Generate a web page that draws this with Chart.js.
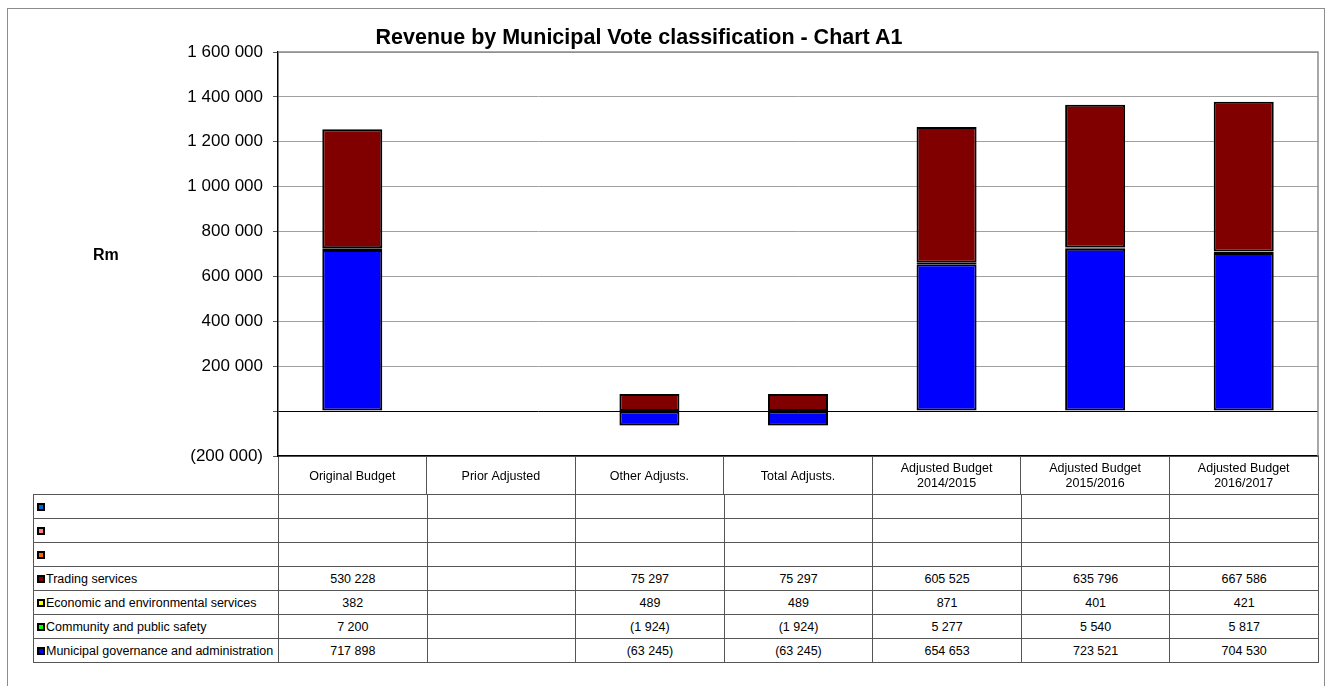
<!DOCTYPE html>
<html>
<head>
<meta charset="utf-8">
<title>Revenue by Municipal Vote classification - Chart A1</title>
<script src="https://cdn.jsdelivr.net/npm/chart.js@4.4.1/dist/chart.umd.min.js"></script>
<style>
  body { margin: 0; background: #fff; font-family: Arial, "Liberation Sans", sans-serif; }
  #page { position: relative; width: 1332px; height: 686px; overflow: hidden; }
  #frame { position: absolute; left: 7px; top: 8px; width: 1318px; height: 720px;
           border: 1px solid #8c8c8c; box-sizing: border-box; }
  #chart { position: absolute; left: 0; top: 0; }
  #title { position: absolute; left: 0; width: 1278px; top: 25px; text-align: center;
           font-weight: bold; font-size: 21.5px; color: #000; }
  #unit { position: absolute; left: 93px; top: 246px; font-weight: bold; font-size: 16px; color: #000; }
  #table { position: absolute; left: 33px; top: 494px; width: 1286px; display: grid;
           grid-template-columns: 245px repeat(7, 1fr);
           border-left: 1px solid #555; border-top: 1px solid #555; box-sizing: border-box;
           font-size: 12.5px; color: #000; }
  .cell { height: 24px; border-right: 1px solid #555; border-bottom: 1px solid #555;
          box-sizing: border-box; display: flex; align-items: center; justify-content: center;
          white-space: nowrap; overflow: hidden; }
  .cell.name { justify-content: flex-start; padding-left: 3px; }
  .key { width: 8px; height: 8px; border: 2px solid #000; box-sizing: border-box;
         margin-right: 1px; flex: none; }
</style>
</head>
<body>
<div id="page">
  <div id="frame"></div>
  <canvas id="chart" width="1332" height="494"></canvas>
  <div id="title">Revenue by Municipal Vote classification - Chart A1</div>
  <div id="unit">Rm</div>
  <div id="table"></div>
</div>
<script>
const categories = [
  "Original Budget",
  "Prior Adjusted",
  "Other Adjusts.",
  "Total Adjusts.",
  ["Adjusted Budget", "2014/2015"],
  ["Adjusted Budget", "2015/2016"],
  ["Adjusted Budget", "2016/2017"],
];

// stacked bottom-up, in this order
const municipal = [717898, null, -63245, -63245, 654653, 723521, 704530];
const community = [7200, null, -1924, -1924, 5277, 5540, 5817];
const economic = [382, null, 489, 489, 871, 401, 421];
const trading = [530228, null, 75297, 75297, 605525, 635796, 667586];
const blank = [null, null, null, null, null, null, null];

const yTicks = { min: -200000, max: 1600000, step: 200000 };

const series = [
  { name: "Municipal governance and administration", data: municipal, color: "#0000ff" },
  { name: "Community and public safety", data: community, color: "#00ff00" },
  { name: "Economic and environmental services", data: economic, color: "#ffff00" },
  { name: "Trading services", data: trading, color: "#800000" },
  { name: "", data: blank, color: "#ff6600" },
  { name: "", data: blank, color: "#ff8080" },
  { name: "", data: blank, color: "#0066cc" },
];

const FONT = "Arial, 'Liberation Sans', sans-serif";

/* 1 234 567 style, negatives in brackets */
function fmt(v) {
  if (v === null || v === undefined) return "";
  const s = Math.abs(v).toString().replace(/\B(?=(\d{3})+(?!\d))/g, " ");
  return v < 0 ? "(" + s + ")" : s;
}

/* gray top/right edges of the plot area */
const plotFrame = {
  id: "plotFrame",
  afterDraw(chart) {
    const { ctx, chartArea: a } = chart;
    ctx.save();
    ctx.strokeStyle = "#8c8c8c";
    ctx.lineWidth = 1.5;
    ctx.beginPath();
    ctx.moveTo(a.left, a.top);
    ctx.lineTo(a.right, a.top);
    ctx.lineTo(a.right, a.bottom);
    ctx.stroke();
    ctx.restore();
  },
};

new Chart(document.getElementById("chart"), {
  type: "bar",
  data: {
    labels: categories,
    datasets: series.map((s) => ({
      label: s.name,
      data: s.data,
      backgroundColor: s.color,
      borderColor: "#000",
      borderWidth: 2,
      borderSkipped: false,
      barPercentage: 0.404,
      categoryPercentage: 1,
    })),
  },
  options: {
    responsive: false,
    animation: false,
    devicePixelRatio: 1,
    layout: { padding: { left: 0, top: 52, right: 14, bottom: 0 } },
    plugins: {
      legend: { display: false },
      tooltip: { enabled: false },
    },
    scales: {
      x: {
        stacked: true,
        border: { color: "#000", width: 1.5 },
        grid: {
          drawOnChartArea: false,
          drawTicks: true,
          tickLength: 38,
          color: "#555",
          offset: true,
        },
        ticks: {
          color: "#000",
          font: { family: FONT, size: 12.5 },
          padding: -25,
          maxRotation: 0,
          autoSkip: false,
          crossAlign: "center",
        },
        afterFit: (s) => { s.height = 38; },
      },
      y: {
        stacked: true,
        min: yTicks.min,
        max: yTicks.max,
        border: { color: "#000", width: 1.5 },
        grid: {
          color: (c) => (c.tick && c.tick.value === 0 ? "#000" : "#a0a0a0"),
          tickColor: "#555",
          tickLength: 5,
        },
        ticks: {
          stepSize: yTicks.step,
          color: "#000",
          padding: 10,
          font: { family: FONT, size: 17 },
          callback: (v) => (v === 0 ? "" : fmt(v)),
        },
        afterFit: (s) => { s.width = 278; },
      },
    },
  },
  plugins: [plotFrame],
});

/* data table under the plot, rows listed top series first */
const table = document.getElementById("table");
series.slice().reverse().forEach((s) => {
  const name = document.createElement("div");
  name.className = "cell name";
  const key = document.createElement("span");
  key.className = "key";
  key.style.background = s.color;
  name.appendChild(key);
  name.appendChild(document.createTextNode(s.name));
  table.appendChild(name);
  s.data.forEach((v) => {
    const c = document.createElement("div");
    c.className = "cell";
    c.textContent = fmt(v);
    table.appendChild(c);
  });
});
</script>
</body>
</html>
